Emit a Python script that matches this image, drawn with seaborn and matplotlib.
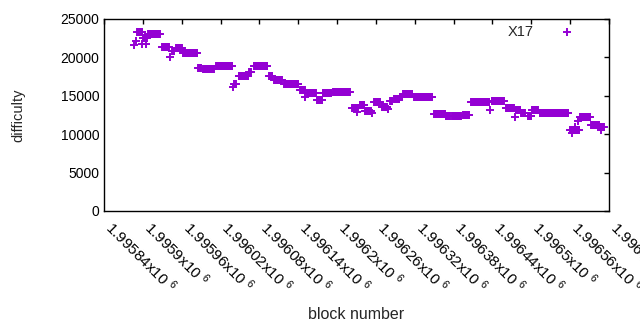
import numpy as np
import pandas as pd
import matplotlib
matplotlib.use("Agg")
import matplotlib.pyplot as plt
import seaborn as sns

# Step segments: (first block, last block, difficulty)
seg_start = [1995891, 1995900, 1995908, 1995930, 1995945, 1995951, 1995962, 1995985,
             1995993, 1996013, 1996041, 1996048, 1996064, 1996072, 1996095, 1996103,
             1996118, 1996143, 1996154, 1996169, 1996178, 1996194, 1996223, 1996235,
             1996243, 1996257, 1996269, 1996282, 1996288, 1996297, 1996302, 1996319,
             1996350, 1996368, 1996378, 1996395, 1996407, 1996439, 1996461, 1996476,
             1996484, 1996495, 1996501, 1996513, 1996559, 1996575, 1996592, 1996606]
seg_end = [1995899, 1995906, 1995926, 1995940, 1995948, 1995960, 1995984, 1995990,
           1996010, 1996038, 1996044, 1996063, 1996067, 1996092, 1996100, 1996115,
           1996140, 1996150, 1996167, 1996177, 1996191, 1996220, 1996232, 1996242,
           1996252, 1996266, 1996277, 1996285, 1996296, 1996300, 1996316, 1996347,
           1996367, 1996374, 1996391, 1996404, 1996435, 1996458, 1996473, 1996483,
           1996490, 1996500, 1996510, 1996557, 1996574, 1996591, 1996605, 1996612]
seg_diff = [23300, 22500, 23050, 21350, 20830, 21220, 20570, 18680,
            18550, 18880, 16540, 17640, 18100, 18940, 17580, 17120,
            16540, 15750, 15360, 14450, 15360, 15490, 13410, 13800,
            13020, 14130, 13600, 14260, 14520, 14840, 15230, 14840,
            12630, 12430, 12370, 12500, 14190, 14320, 13410, 13100,
            12800, 12370, 13150, 12760, 10550, 12300, 11260, 10940]

# Isolated points
out_block = [1995886, 1995889, 1995898, 1995905, 1995942, 1996040, 1996150, 1996231,
             1996254, 1996279, 1996436, 1996475, 1996563, 1996567, 1996572, 1996608]
out_diff = [21600, 22100, 21700, 21700, 20050, 16200, 14840, 12890,
            12760, 13280, 13150, 12240, 10200, 11000, 11720, 10550]

blocks, diffs = [], []
for s, e, d in zip(seg_start, seg_end, seg_diff):
    for b in range(s, e + 1):
        blocks.append(b)
        diffs.append(d)
blocks += out_block
diffs += out_diff
df = pd.DataFrame({"block number": blocks, "difficulty": diffs})

x_ticks = list(range(1995840, 1996621, 60))
y_ticks = [0, 5000, 10000, 15000, 20000, 25000]

sns.set_theme(style="white")
plt.rcParams["font.family"] = ["Liberation Sans", "DejaVu Sans"]
plt.rcParams["mathtext.fontset"] = "custom"
plt.rcParams["mathtext.rm"] = "Liberation Sans"
plt.rcParams["mathtext.it"] = "Liberation Sans"

fig = plt.figure(figsize=(6.4, 3.3), dpi=100)
ax = fig.add_axes([104 / 640, 1 - 211 / 330, 505 / 640, 192 / 330])

sns.scatterplot(data=df, x="block number", y="difficulty", marker="+",
                color="#9400D3", s=38, linewidth=1.4, ax=ax, label="X17")

ax.set_xlim(1995840, 1996620)
ax.set_ylim(0, 25000)
ax.set_xticks(x_ticks)
ax.set_xticklabels([("%g" % (t / 1e6)) + "x10 $^{6}$" for t in x_ticks],
                   rotation=-45, ha="left", va="baseline",
                   rotation_mode="anchor", fontsize=11)
ax.set_yticks(y_ticks)
ax.set_yticklabels([str(t) for t in y_ticks], fontsize=10)
ax.tick_params(direction="in", length=3.5, width=1, top=True, right=True,
               colors="black", labelcolor="black")
ax.tick_params(axis="x", pad=13)
for sp in ax.spines.values():
    sp.set_color("black")
    sp.set_linewidth(1)
ax.set_xlabel("block number", fontsize=11.5, labelpad=8)
ax.set_ylabel("difficulty", fontsize=10.5, labelpad=25)
ax.grid(False)

leg = ax.legend(loc="upper right", frameon=False, markerfirst=False,
                fontsize=10.5, bbox_to_anchor=(0.972, 1.036), handletextpad=1.3,
                markerscale=1.0)

fig.savefig("out.png", dpi=100)
